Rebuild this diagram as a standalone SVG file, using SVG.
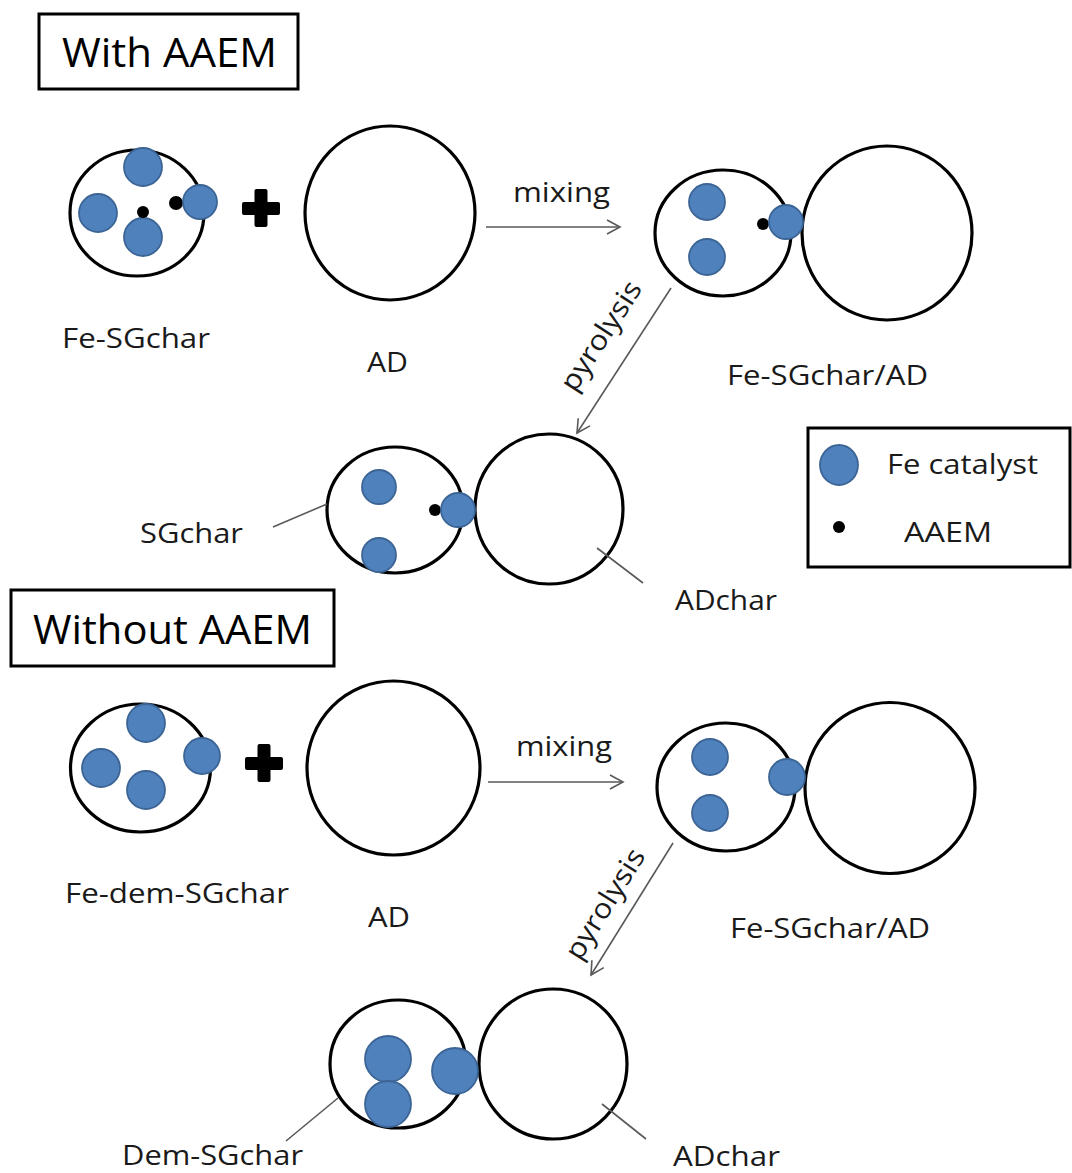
<svg xmlns="http://www.w3.org/2000/svg" width="1072" height="1173" viewBox="0 0 1072 1173">
<style>
  .bg{fill:#ffffff}
  .part{fill:#ffffff;stroke:#000000;stroke-width:3.2}
  .fe{fill:#4F81BD;stroke:#3C6595;stroke-width:1.8}
  .aaem{fill:#000000}
  .box{fill:#ffffff;stroke:#000000;stroke-width:3}
  .title{font-family:"Open Sans","Liberation Sans",sans-serif;font-size:41px;fill:#000000}
  .lbl{font-family:"Open Sans","Liberation Sans",sans-serif;font-size:28px;fill:#1a1a1a}
  .conn{fill:none;stroke:#595959;stroke-width:1.6}
  .lead{fill:none;stroke:#595959;stroke-width:1.6}
  .plus{fill:#000000}
</style>
<defs>
  <marker id="arr" viewBox="0 0 16 16" refX="14" refY="8" markerWidth="16" markerHeight="16" markerUnits="userSpaceOnUse" orient="auto">
    <path d="M1,1 L14,8 L1,15" fill="none" stroke="#595959" stroke-width="1.6"/>
  </marker>
</defs>
<rect class="bg" x="0" y="0" width="1072" height="1173"/>

<!-- ===== With AAEM ===== -->
<g id="title-with">
  <rect class="box" x="39" y="14" width="259" height="75"/>
  <text class="title" x="62" y="67" textLength="215" lengthAdjust="spacingAndGlyphs">With AAEM</text>
</g>

<g id="fe-sgchar">
  <ellipse class="part" cx="137" cy="213" rx="67" ry="63"/>
  <circle class="fe" cx="143" cy="167" r="19"/>
  <circle class="fe" cx="98" cy="213" r="19"/>
  <circle class="fe" cx="143" cy="237" r="19"/>
  <circle class="aaem" cx="143" cy="212" r="6"/>
  <circle class="aaem" cx="176" cy="203" r="7"/>
  <circle class="fe" cx="200" cy="202" r="17"/>
  <text class="lbl" x="62" y="348" textLength="148" lengthAdjust="spacingAndGlyphs">Fe-SGchar</text>
</g>

<g id="plus-1">
  <rect class="plus" x="242" y="202" width="38" height="13" rx="2"/>
  <rect class="plus" x="254.5" y="189" width="13" height="38" rx="2"/>
</g>

<g id="ad-1">
  <ellipse class="part" cx="390" cy="213" rx="85" ry="87"/>
  <text class="lbl" x="367" y="372" textLength="41" lengthAdjust="spacingAndGlyphs">AD</text>
</g>

<g id="fe-sgchar-ad-1">
  <ellipse class="part" cx="723" cy="233" rx="68" ry="63"/>
  <ellipse class="part" cx="887" cy="233" rx="85" ry="87"/>
  <circle class="fe" cx="707" cy="202" r="18"/>
  <circle class="fe" cx="707" cy="257" r="18"/>
  <circle class="aaem" cx="763" cy="224" r="6"/>
  <circle class="fe" cx="786" cy="222" r="17"/>
  <text class="lbl" x="727" y="385" textLength="201" lengthAdjust="spacingAndGlyphs">Fe-SGchar/AD</text>
</g>

<g id="sgchar-adchar">
  <ellipse class="part" cx="395" cy="510" rx="68" ry="63"/>
  <ellipse class="part" cx="549" cy="509" rx="74" ry="75"/>
  <circle class="fe" cx="379" cy="487" r="17"/>
  <circle class="fe" cx="379" cy="555" r="17"/>
  <circle class="aaem" cx="435" cy="510" r="6"/>
  <circle class="fe" cx="458" cy="510" r="17"/>
  <text class="lbl" x="140" y="543" textLength="103" lengthAdjust="spacingAndGlyphs">SGchar</text>
  <text class="lbl" x="675" y="610" textLength="102" lengthAdjust="spacingAndGlyphs">ADchar</text>
</g>

<g id="legend">
  <rect class="box" x="808" y="428" width="262" height="139"/>
  <ellipse class="fe" cx="839" cy="465" rx="19" ry="20"/>
  <text class="lbl" x="887" y="474" textLength="151" lengthAdjust="spacingAndGlyphs">Fe catalyst</text>
  <circle class="aaem" cx="839" cy="527" r="6"/>
  <text class="lbl" x="904" y="542" textLength="88" lengthAdjust="spacingAndGlyphs">AAEM</text>
</g>

<!-- ===== Without AAEM ===== -->
<g id="title-without">
  <rect class="box" x="11" y="590" width="323" height="76"/>
  <text class="title" x="33" y="644" textLength="279" lengthAdjust="spacingAndGlyphs">Without AAEM</text>
</g>

<g id="fe-dem-sgchar">
  <ellipse class="part" cx="140.5" cy="768" rx="70" ry="64"/>
  <circle class="fe" cx="146" cy="723" r="19"/>
  <circle class="fe" cx="101" cy="768" r="19"/>
  <circle class="fe" cx="146" cy="790" r="19"/>
  <circle class="fe" cx="202" cy="756" r="18"/>
  <text class="lbl" x="65" y="903" textLength="224" lengthAdjust="spacingAndGlyphs">Fe-dem-SGchar</text>
</g>

<g id="plus-2">
  <rect class="plus" x="245" y="757" width="38" height="13" rx="2"/>
  <rect class="plus" x="257.5" y="744" width="13" height="38" rx="2"/>
</g>

<g id="ad-2">
  <ellipse class="part" cx="393.5" cy="768" rx="86.5" ry="87"/>
  <text class="lbl" x="368" y="927" textLength="42" lengthAdjust="spacingAndGlyphs">AD</text>
</g>

<g id="fe-sgchar-ad-2">
  <ellipse class="part" cx="726" cy="787" rx="69" ry="64"/>
  <ellipse class="part" cx="890" cy="788" rx="85" ry="85.5"/>
  <circle class="fe" cx="710" cy="757" r="18"/>
  <circle class="fe" cx="710" cy="813" r="18"/>
  <circle class="fe" cx="787" cy="777" r="18"/>
  <text class="lbl" x="730" y="938" textLength="200" lengthAdjust="spacingAndGlyphs">Fe-SGchar/AD</text>
</g>

<g id="dem-sgchar-adchar">
  <ellipse class="part" cx="398" cy="1064" rx="68" ry="64"/>
  <ellipse class="part" cx="553" cy="1064" rx="74" ry="75"/>
  <circle class="fe" cx="388" cy="1059" r="23"/>
  <circle class="fe" cx="388" cy="1104" r="23"/>
  <circle class="fe" cx="455" cy="1071" r="23"/>
  <text class="lbl" x="122" y="1165" textLength="181" lengthAdjust="spacingAndGlyphs">Dem-SGchar</text>
  <text class="lbl" x="673" y="1166" textLength="107" lengthAdjust="spacingAndGlyphs">ADchar</text>
</g>

<!-- ===== Connectors ===== -->
<g id="connectors">
  <line class="conn" x1="486" y1="227" x2="620" y2="227" marker-end="url(#arr)"/>
  <text class="lbl" x="513" y="202" textLength="97" lengthAdjust="spacingAndGlyphs">mixing</text>
  <line class="conn" x1="671" y1="288" x2="577" y2="433" marker-end="url(#arr)"/>
  <text class="lbl" text-anchor="middle" transform="translate(609,341) rotate(-57)" textLength="125" lengthAdjust="spacingAndGlyphs">pyrolysis</text>
  <line class="lead" x1="273" y1="527" x2="327" y2="504"/>
  <line class="lead" x1="597" y1="548" x2="643" y2="583"/>

  <line class="conn" x1="488" y1="782" x2="623" y2="782" marker-end="url(#arr)"/>
  <text class="lbl" x="516" y="756" textLength="96" lengthAdjust="spacingAndGlyphs">mixing</text>
  <line class="conn" x1="673" y1="843" x2="591" y2="975" marker-end="url(#arr)"/>
  <text class="lbl" text-anchor="middle" transform="translate(613,909) rotate(-58)" textLength="125" lengthAdjust="spacingAndGlyphs">pyrolysis</text>
  <line class="lead" x1="286" y1="1141" x2="338" y2="1098"/>
  <line class="lead" x1="602" y1="1104" x2="646" y2="1139"/>
</g>
</svg>
